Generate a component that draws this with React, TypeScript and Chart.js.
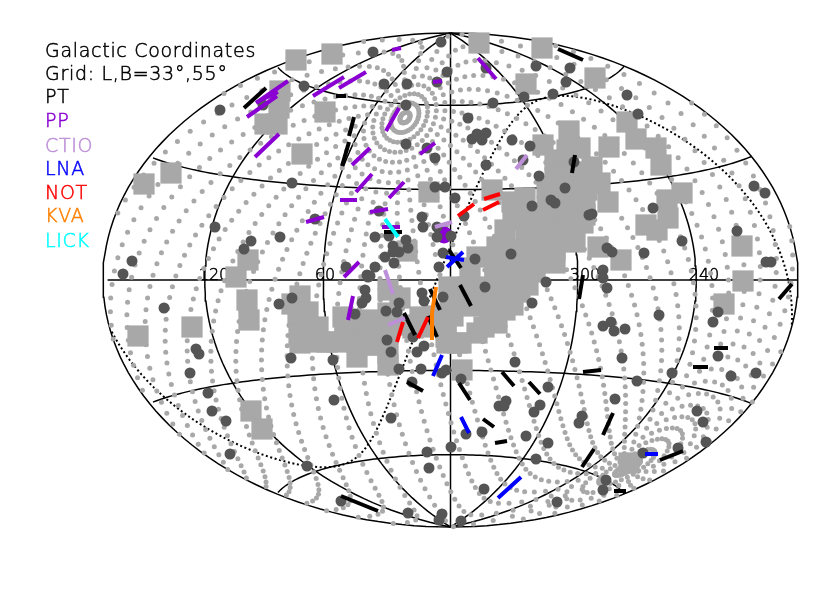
import React, { useEffect, useRef } from "react";
import { Chart, registerables } from "chart.js";

Chart.register(...registerables);

const TITLE_LINES = ["Galactic Coordinates", "Grid: L,B=33°,55°"];
const TELESCOPES = ["PT", "PP", "CTIO", "LNA", "NOT", "KVA", "LICK"];
const TELESCOPE_COLORS = ["#000000", "#8a00d2", "#bd8fd8", "#0000ff", "#ff0000", "#ff8000", "#00ffff"];
const LONGITUDE_LABELS = ["120", "60", "300", "240"];

const MERIDIANS = [0, 60, 120, 240, 300, 180, -180];
const PARALLELS = [0, 30, -30, 60, -60];
const GRID_POLE = [33, 55];
const ECLIPTIC_POLE = [96.38, 29.81];
const GRID_COLATITUDE_STEP = 3.5;
const GRID_AZIMUTH_COUNT = 32;

const SQUARES = [
  [296,60],[332,54],[144,184],[171,173],[325,112],[302,154],[280,91],[279,108],[265,124],[277,124],[248,260],[236,277],
  [479,43],[542,48],[526,84],[429,192],[492,190],[407,251],[595,78],[627,122],[636,139],[656,148],[661,165],[609,147],
  [682,193],[667,200],[668,218],[646,225],[657,230],[742,246],[743,281],[724,304],[598,247],[621,260],[138,336],[192,327],
  [247,300],[249,320],[251,411],[262,429],[462,370],[629,463],
  [569,131],[543,145],[555,160],[580,148],[592,167],[600,183],[608,202],[567,167],[512,202],[525,198],[513,217],
  [567,150],[567,175],[580,172],[555,178],[525,215],[545,215],[565,215],[585,215],
  [547,187],[567,187],[587,190],[547,207],[567,207],[585,207],[505,230],[527,230],[547,227],[567,227],[583,223],
  [526,230],[546,230],[565,230],[575,242],[555,242],[497,247],[477,257],[517,250],[537,250],[555,263],[535,263],[515,267],[495,267],[470,268],
  [555,250],[497,258],[515,275],[495,275],[535,272],[480,295],[500,295],[520,292],[490,312],[505,310],
  [449,287],[528,285],[508,285],[488,287],[468,287],[513,305],[493,305],[473,303],[450,307],[497,323],[477,333],[446,328],[457,343],[447,343],
  [453,306],[453,316],[474,306],[484,327],[446,337],[461,343],
  [300,296],[292,304],[308,312],[298,317],[318,327],[300,343],[327,342],[343,317],[345,337],[357,357],[365,340],
  [319,342],[337,342],[357,342],[377,345],[367,345],[299,335],[365,325],[345,325],[408,325],[425,318],[436,316],
  [388,290],[400,298],[388,313],[388,333],[388,353],[388,365],[370,327],[368,320],[420,317],[422,327],[413,328],
];

const DARK_STARS = [
  [220,110],[304,86],[263,105],[292,183],[215,227],[280,237],[251,241],[244,249],[315,219],[132,261],[123,274],[346,267],[367,275],[373,52],
  [441,42],[447,72],[486,68],[384,84],[407,84],[437,82],[406,105],[493,103],[524,97],[553,94],[536,66],[570,68],[566,82],[468,118],
  [472,139],[477,134],[486,133],[482,140],[512,140],[530,146],[406,144],[427,148],[435,158],[523,160],[486,165],[539,176],[574,162],
  [435,187],[445,187],[455,198],[565,188],[532,206],[551,200],[555,203],[589,215],[464,216],[422,217],[423,227],[379,211],[437,227],[437,237],[451,236],
  [375,237],[389,236],[406,240],[408,248],[393,246],[393,252],[399,252],[385,257],[394,263],[375,267],[370,276],[443,253],[439,267],[475,259],[511,254],
  [546,282],[532,303],[485,287],[443,297],[603,270],[603,278],[607,288],[603,326],[611,322],[627,95],[638,114],[592,214],[653,208],[737,231],[754,186],[765,193],
  [682,241],[644,253],[607,248],[612,252],[766,262],[771,262],[164,308],[196,349],[199,354],[190,373],[208,393],[212,411],[226,421],[230,454],[307,466],
  [279,304],[292,298],[291,358],[333,360],[334,400],[341,501],[365,290],[366,298],[362,303],[355,314],[368,277],[399,303],[386,311],[397,312],[387,340],[391,352],[399,369],
  [422,293],[424,301],[413,337],[417,352],[424,346],[421,369],[442,373],[446,370],[461,379],[412,382],[515,362],[548,387],[391,418],[506,401],[499,406],[504,406],
  [540,405],[534,412],[582,416],[579,423],[466,434],[482,432],[526,436],[548,443],[451,447],[427,452],[429,468],[536,459],[484,489],[557,502],[408,513],[442,514],[439,520],[461,521],
  [659,315],[614,331],[625,329],[622,358],[718,312],[713,322],[718,356],[731,376],[756,373],[672,373],[637,381],[615,399],[697,411],[703,422],[706,442],[678,448],[643,453],[606,480],[603,490],
];

const PP_BLOB = [[444,235]];

const PT_SEGMENTS = [
  [244,108,266,88],[336,96,346,96],[354,117,349,136],[349,142,342,166],[558,49,583,60],[575,155,572,173],[384,232,402,232],[449,250,461,268],
  [460,285,471,306],[583,275,579,299],[404,313,415,335],[430,289,440,310],[428,316,437,337],[407,382,423,391],[459,383,470,400],[502,372,514,386],
  [529,382,540,394],[483,419,494,427],[495,443,507,441],[341,496,378,511],[583,372,601,370],[613,413,603,435],[594,449,582,467],[660,460,683,451],
  [614,491,626,491],[714,348,728,348],[693,367,708,367],[779,299,792,284],
];
const PP_SEGMENTS = [
  [256,103,288,81],[257,102,278,92],[247,117,277,96],[255,157,279,134],[313,96,344,77],[339,88,366,72],[352,165,370,148],[356,192,372,174],
  [340,200,357,200],[306,222,324,217],[344,277,359,262],[392,50,401,48],[478,58,496,79],[433,82,442,81],[386,131,399,108],[420,154,435,143],
  [389,198,404,182],[370,212,388,209],[382,227,400,227],[353,296,348,320],
];
const CTIO_SEGMENTS = [[516,169,527,155],[435,227,452,222],[385,270,393,294],[388,325,405,318]];
const LNA_SEGMENTS = [[447,267,463,252],[446,257,464,260],[433,376,442,355],[461,417,469,433],[498,498,521,477],[645,454,658,454]];
const NOT_SEGMENTS = [[458,216,474,204],[484,199,500,194],[483,210,499,202],[397,342,403,322],[418,338,428,317]];
const KVA_SEGMENTS = [[432,313,436,287],[432,340,432,313]];
const LICK_SEGMENTS = [[385,219,398,237]];

const CX = 450.5, CY = 280, RX = 347.5, RY = 247;
const D = Math.PI / 180;

function hammer(lDeg: number, bDeg: number) {
  let l = lDeg;
  if (l > 180) l -= 360;
  if (l < -180) l += 360;
  const lr = l * D, br = bDeg * D;
  const den = Math.sqrt(1 + Math.cos(br) * Math.cos(lr / 2));
  return {
    x: CX - (RX * Math.cos(br) * Math.sin(lr / 2)) / den,
    y: CY - (RY * Math.sin(br)) / den,
  };
}

function fromPole(pole: number[], colat: number, az: number) {
  const pl = pole[0] * D, pb = pole[1] * D;
  const P = [Math.cos(pb) * Math.cos(pl), Math.cos(pb) * Math.sin(pl), Math.sin(pb)];
  const E = [-Math.sin(pl), Math.cos(pl), 0];
  const N = [-Math.sin(pb) * Math.cos(pl), -Math.sin(pb) * Math.sin(pl), Math.cos(pb)];
  const t = colat * D, a = az * D;
  const v = [0, 1, 2].map((i) => Math.cos(t) * P[i] + Math.sin(t) * (Math.cos(a) * E[i] + Math.sin(a) * N[i]));
  return { l: Math.atan2(v[1], v[0]) / D, b: Math.asin(Math.max(-1, Math.min(1, v[2]))) / D };
}

function steps(from: number, to: number, step: number) {
  const out: number[] = [];
  for (let v = from; v <= to + 1e-9; v += step) out.push(v);
  return out;
}

const meridianPath = (l: number) => {
  const lon = l === -180 ? -179.999 : l === 180 ? 179.999 : l;
  return steps(-90, 90, 2).map((b) => hammer(lon, b));
};
const parallelPath = (b: number) => steps(-179.999, 179.999, 3).map((l) => hammer(l, b));

const gridDots = () => {
  const out: { x: number; y: number }[] = [];
  for (const c of steps(2, 178, GRID_COLATITUDE_STEP))
    for (const i of steps(0, GRID_AZIMUTH_COUNT - 1, 1)) {
      const p = fromPole(GRID_POLE, c, (i * 360) / GRID_AZIMUTH_COUNT);
      out.push(hammer(p.l, p.b));
    }
  return out;
};

const eclipticPath = () => {
  const pts: { x: number; y: number }[] = [];
  for (const a of steps(0, 360, 1.5)) {
    const p = fromPole(ECLIPTIC_POLE, 90, a);
    pts.push(hammer(p.l, p.b));
  }
  const out: { x: number; y: number }[] = [];
  pts.forEach((p, i) => {
    if (i > 0 && Math.abs(p.x - pts[i - 1].x) > 100) out.push({ x: NaN, y: NaN });
    out.push(p);
  });
  return out;
};

const points = (rows: number[][]) => rows.map(([x, y]) => ({ x, y }));
const segments = (rows: number[][]) =>
  rows.flatMap(([a, b, c, d]) => [{ x: a, y: b }, { x: c, y: d }, { x: NaN, y: NaN }]);

const FONT_FAMILY = '"DejaVu Sans ExtraLight", "DejaVu Sans"';

export default function App() {
  const ref = useRef<HTMLCanvasElement>(null);
  useEffect(() => {
    if (!ref.current) return;
    const lineDs = (data: any[], width: number, color: string, order: number, dash?: number[]) => ({
      type: "scatter" as const,
      data,
      showLine: true,
      spanGaps: false,
      borderColor: color,
      borderWidth: width,
      borderDash: dash ?? [],
      pointRadius: 0,
      fill: false,
      order,
      clip: false,
    });
    const segSets = [PT_SEGMENTS, PP_SEGMENTS, CTIO_SEGMENTS, LNA_SEGMENTS, NOT_SEGMENTS, KVA_SEGMENTS, LICK_SEGMENTS];
    const drawText = (ctx: any, t: string, x: number, y: number, color: string) => {
      ctx.fillStyle = color;
      ctx.strokeStyle = color;
      ctx.lineWidth = 0.5;
      ctx.fillText(t, x, y);
      ctx.strokeText(t, x, y);
    };
    const textPlugin = {
      id: "sceneText",
      beforeDatasetsDraw(chart: any) {
        const ctx = chart.ctx;
        ctx.save();
        ctx.font = `300 16px ${FONT_FAMILY}`;
        ctx.textAlign = "center";
        ctx.textBaseline = "alphabetic";
        const xs = [214, 325, 585, 704];
        LONGITUDE_LABELS.forEach((t, i) => drawText(ctx, t, xs[i], 280, "#000"));
        ctx.restore();
      },
      afterDraw(chart: any) {
        const ctx = chart.ctx;
        ctx.save();
        ctx.font = `300 19px ${FONT_FAMILY}`;
        ctx.textAlign = "left";
        ctx.textBaseline = "alphabetic";
        (ctx as any).letterSpacing = "0.7px";
        drawText(ctx, TITLE_LINES[0], 45, 57, "#000");
        drawText(ctx, TITLE_LINES[1], 45, 80, "#000");
        const ys = [103, 127, 152, 175, 199, 222, 247];
        TELESCOPES.forEach((t, i) => drawText(ctx, t, 45, ys[i], TELESCOPE_COLORS[i]));
        ctx.restore();
      },
    };
    const chart = new Chart(ref.current, {
      type: "scatter",
      data: {
        datasets: [
          ...MERIDIANS.map((l) => lineDs(meridianPath(l), 1.5, "#000", 60)),
          ...PARALLELS.map((b) => lineDs(parallelPath(b), 1.5, "#000", 60)),
          lineDs(eclipticPath(), 2, "#000", 59, [2, 2.6]),
          {
            label: "grid",
            data: gridDots(),
            pointStyle: "circle",
            pointRadius: 2.5,
            pointBackgroundColor: "#a8a8a8",
            pointBorderWidth: 0,
            order: 50,
            clip: false,
          },
          {
            label: "squares",
            data: points(SQUARES),
            pointStyle: "rect",
            pointRadius: 15,
            pointBackgroundColor: "#a8a8a8",
            pointBorderWidth: 0,
            order: 40,
            clip: false,
          },
          {
            label: "PP blob",
            data: points(PP_BLOB),
            pointRadius: 8.5,
            pointBackgroundColor: TELESCOPE_COLORS[1],
            pointBorderWidth: 0,
            order: 31,
            clip: false,
          },
          {
            label: "stars",
            data: points(DARK_STARS),
            pointRadius: 5.5,
            pointBackgroundColor: "#555555",
            pointBorderWidth: 0,
            order: 30,
            clip: false,
          },
          ...segSets.map((rows, i) => lineDs(segments(rows), 4, TELESCOPE_COLORS[i], 20 - i)),
        ] as any,
      },
      options: {
        responsive: false,
        animation: false,
        layout: { padding: 0, autoPadding: false },
        plugins: { legend: { display: false }, tooltip: { enabled: false }, title: { display: false } },
        scales: {
          x: { type: "linear", min: 0, max: 830, display: false },
          y: { type: "linear", min: 0, max: 593, reverse: true, display: false },
        },
      } as any,
      plugins: [textPlugin],
    });
    return () => chart.destroy();
  }, []);
  return (
    <div style={{ position: "absolute", left: 0, top: 0, width: 830, height: 593, background: "#fff" }}>
      <canvas ref={ref} width={830} height={593} style={{ display: "block" }} />
    </div>
  );
}
